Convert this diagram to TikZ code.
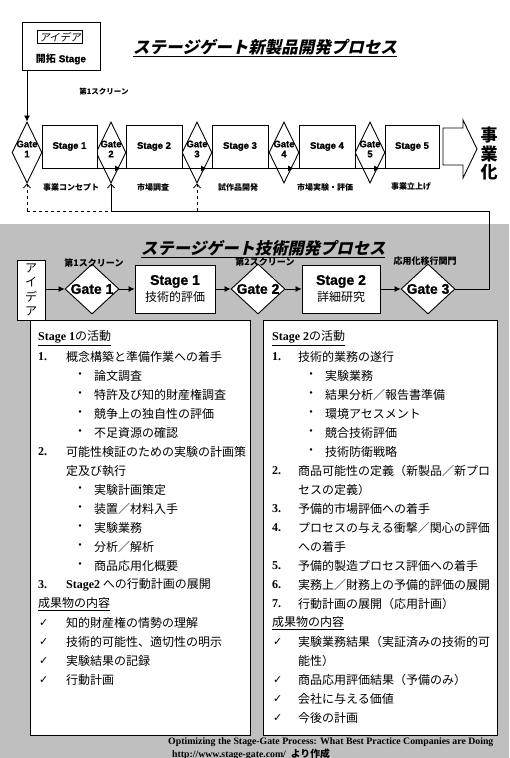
\documentclass[tikz,border=0pt]{standalone}
\usepackage{fontspec}
\setmainfont{Liberation Sans}
\newfontfamily\heavy[BoldFeatures={FakeBold=1.2}]{Liberation Sans}
\newfontfamily\jp{Noto Sans CJK JP}
\newfontfamily\jpsl[FakeSlant=0.22]{Noto Sans CJK JP}
\newfontfamily\lserif{Liberation Serif}
\newfontfamily\dv{DejaVu Sans}
\usetikzlibrary{arrows.meta,shapes.geometric,calc}
\tikzset{
 stagebox/.style={draw, line width=0.9pt, fill=white, inner sep=0pt},
 gatebox/.style={draw, diamond, line width=0.9pt, fill=white, inner sep=0pt},
 arr/.style={-{Latex[length=6pt,width=6pt]}, line width=0.8pt},
 uparr/.style={-{Straight Barb[length=4pt,width=7pt]}, line width=0.8pt},
 ln/.style={anchor=west, inner sep=0pt, font=\jp\fontsize{12}{14}\selectfont},
 gtxt/.style={inner sep=0pt, align=center, font=\heavy\bfseries\fontsize{9.5}{10}\selectfont},
 lgtxt/.style={inner sep=0pt, font=\heavy\bfseries\fontsize{14}{15}\selectfont},
 toplbl/.style={inner sep=0pt, font=\jp\bfseries\fontsize{8}{9}\selectfont},
 scr/.style={inner sep=0pt, font=\jp\bfseries\fontsize{9}{10}\selectfont},
}
\newcommand\myN[6]{\node[ln] (#1n) at (#2,#4) {\lserif\bfseries #5.}; \node[ln] (#1) at (#3,#4) {#6};}
\newcommand\myB[5]{\node[ln] (#1b) at (#2,#4) {・}; \node[ln] (#1) at (#3,#4) {#5};}
\newcommand\myK[5]{\node[ln] (#1k) at (#2,#4) {\dv\fontsize{11}{12}\selectfont ✓}; \node[ln] (#1) at (#3,#4) {#5};}
\newcommand\myC[4]{\node[ln] (#1) at (#2,#3) {#4};}
\begin{document}
\begin{tikzpicture}[x=1pt,y=-1pt]
\useasboundingbox (0,0) rectangle (509,758);
\fill[white] (0,0) rectangle (509,758);
\fill[black!25] (0,224) rectangle (509,758);

% ---------- upper process ----------
\node[stagebox, minimum width=78pt, minimum height=48pt] (idea) at (61,46) {};
\node[draw, line width=0.6pt, inner sep=1.5pt, font=\jpsl\fontsize{10.5}{11}\selectfont] (ideain) at (60,37) {アイデア};
\node[inner sep=0pt, font=\fontsize{10}{11}\selectfont] (kaitaku) at (61,59) {{\jp\bfseries 開拓} {\heavy\bfseries Stage}};
\node[anchor=west, inner sep=0pt, font=\jpsl\bfseries\fontsize{16.5}{18}\selectfont] (t1) at (133,48) {\underline{ステージゲート新製品開発プロセス}};
\node[scr, font=\jp\bfseries\fontsize{7.5}{9}\selectfont] (scr0) at (104,92) {第1スクリーン};

\foreach \i/\x in {1/27,2/111,3/197,4/284,5/370} {
  \node[gatebox, minimum width=30pt, minimum height=61pt] (g\i) at (\x,152.5) {};
  \node[gtxt] (gt\i) at (\x,149) {Gate\\\i};
}
\foreach \i/\x/\w in {1/69.5/55,2/154/56,3/240/56,4/327/56,5/412/54} {
  \node[stagebox, minimum width=\w pt, minimum height=43pt, font=\heavy\bfseries\fontsize{9.5}{11}\selectfont] (s\i) at (\x,146.5) {\raisebox{2pt}{Stage \i}};
}
\node[toplbl] (l1) at (71,187) {事業コンセプト};
\node[toplbl] (l2) at (153,187) {市場調査};
\node[toplbl] (l3) at (238,187) {試作品開発};
\node[toplbl] (l4) at (325,187) {市場実験・評価};
\node[toplbl] (l5) at (411,187) {事業立上げ};

\draw[line width=0.9pt] (443,128) -- (463,128) -- (463,120) -- (477,149) -- (463,178) -- (463,165) -- (443,165) -- cycle;
\node[inner sep=0pt, align=center, font=\jp\bfseries\fontsize{17}{18.5}\selectfont] (jig) at (489,154) {事\\業\\化};

\draw[arr] (idea.south -| g1) -- (g1.north);
\foreach \a/\b in {1/2,2/3,3/4,4/5} {
  \draw[line width=0.8pt] (s\a.south east) -- (s\b.south west);
  \draw[arr] (s\a.south east) -- ($(g\b |- s\a.south)+(10,0)$);
}

% feedback
\coordinate (f1) at (27,211);
\coordinate (f2) at (111,211);
\coordinate (f3) at (197,211);
\coordinate (fR) at (489,211);
\draw[line width=0.8pt, dashed] (f1) -- (f2);
\draw[uparr, dashed] (f1) -- (g1.south);
\draw[uparr] (f2) -- (g2.south);
\draw[uparr, dashed] (f3) -- (g3.south);

% ---------- lower process ----------
\node[anchor=west, inner sep=0pt, font=\jpsl\bfseries\fontsize{16.3}{18}\selectfont] (t2) at (141,249) {\underline{ステージゲート技術開発プロセス}};
\node[stagebox, minimum width=28pt, minimum height=60pt, align=center, font=\jp\fontsize{12}{14.5}\selectfont] (lidea) at (31,290) {ア\\イ\\デ\\ア};
\foreach \i/\x in {1/92,2/258,3/428} {
  \node[gatebox, minimum width=54pt, minimum height=50pt] (lg\i) at (\x,289) {};
  \node[lgtxt] (lgt\i) at (\x,289) {Gate \i};
}
\node[stagebox, minimum width=80pt, minimum height=48pt, align=center] (ls1) at (175,289)
  {{\heavy\bfseries\fontsize{14}{15}\selectfont Stage 1}\\[3pt]{\jp\fontsize{12}{13}\selectfont 技術的評価}};
\node[stagebox, minimum width=78pt, minimum height=48pt, align=center] (ls2) at (341,289)
  {{\heavy\bfseries\fontsize{14}{15}\selectfont Stage 2}\\[3pt]{\jp\fontsize{12}{13}\selectfont 詳細研究}};
\node[scr] (sc1) at (94,263) {第1スクリーン};
\node[scr] (sc2) at (265,262) {第2スクリーン};
\node[scr] (sc3) at (425,261) {応用化移行関門};

\draw[arr] (lidea.east |- lg1.west) -- (lg1.west);
\draw[arr] (lg1.east) -- (ls1.west);
\draw[arr] (ls1.east) -- (lg2.west);
\draw[arr] (lg2.east) -- (ls2.west);
\draw[arr] (ls2.east) -- (lg3.west);
\draw[line width=0.8pt] (lg3.east) -- (lg3.east -| fR) -- (fR) -- (f2);

% ---------- activity boxes ----------
\node[stagebox, line width=1.2pt, minimum width=220pt, minimum height=415pt, anchor=north west] (A1) at (30,320) {};
\node[stagebox, line width=1.2pt, minimum width=234pt, minimum height=415pt, anchor=north west] (A2) at (263,320) {};

% left box
\myC{L0}{38}{338}{\underline{{\lserif\bfseries Stage 1}の活動}}
\myN{L1}{38}{66}{357}{1}{概念構築と準備作業への着手}
\myB{L2}{74}{94}{376}{論文調査}
\myB{L3}{74}{94}{395}{特許及び知的財産権調査}
\myB{L4}{74}{94}{414}{競争上の独自性の評価}
\myB{L5}{74}{94}{433}{不足資源の確認}
\myN{L6}{38}{66}{452}{2}{可能性検証のための実験の計画策}
\myC{L7}{66}{471}{定及び執行}
\myB{L8}{74}{94}{490}{実験計画策定}
\myB{L9}{74}{94}{509}{装置／材料入手}
\myB{L10}{74}{94}{528}{実験業務}
\myB{L11}{74}{94}{547}{分析／解析}
\myB{L12}{74}{94}{566}{商品応用化概要}
\myN{L13}{38}{66}{585}{3}{{\lserif\bfseries Stage2} への行動計画の展開}
\myC{L14}{38}{604}{\underline{成果物の内容}}
\myK{L15}{39}{66}{623}{知的財産権の情勢の理解}
\myK{L16}{39}{66}{642}{技術的可能性、適切性の明示}
\myK{L17}{39}{66}{661}{実験結果の記録}
\myK{L18}{39}{66}{680}{行動計画}

% right box
\myC{R0}{272}{338}{\underline{{\lserif\bfseries Stage 2}の活動}}
\myN{R1}{272}{298}{357}{1}{技術的業務の遂行}
\myB{R2}{305}{325}{376}{実験業務}
\myB{R3}{305}{325}{395}{結果分析／報告書準備}
\myB{R4}{305}{325}{414}{環境アセスメント}
\myB{R5}{305}{325}{433}{競合技術評価}
\myB{R6}{305}{325}{452}{技術防衛戦略}
\myN{R7}{272}{298}{471}{2}{商品可能性の定義（新製品／新プロ}
\myC{R8}{298}{490}{セスの定義）}
\myN{R9}{272}{298}{509}{3}{予備的市場評価への着手}
\myN{R10}{272}{298}{528}{4}{プロセスの与える衝撃／関心の評価}
\myC{R11}{298}{547}{への着手}
\myN{R12}{272}{298}{566}{5}{予備的製造プロセス評価への着手}
\myN{R13}{272}{298}{585}{6}{実務上／財務上の予備的評価の展開}
\myN{R14}{272}{298}{604}{7}{行動計画の展開（応用計画）}
\myC{R15}{272}{623}{\underline{成果物の内容}}
\myK{R16}{273}{298}{642}{実験業務結果（実証済みの技術的可}
\myC{R17}{298}{661}{能性）}
\myK{R18}{273}{298}{680}{商品応用評価結果（予備のみ）}
\myK{R19}{273}{298}{699}{会社に与える価値}
\myK{R20}{273}{298}{718}{今後の計画}

% source
\node[anchor=west, inner sep=0pt, font=\lserif\bfseries\fontsize{9.8}{10}\selectfont] (src1) at (168,742) {Optimizing the Stage-Gate Process: What Best Practice Companies are Doing};
\node[anchor=west, inner sep=0pt, font=\lserif\bfseries\fontsize{9.8}{10}\selectfont] (src2) at (172,754) {http://www.stage-gate.com/ \ {\jp より作成}};
\end{tikzpicture}
\end{document}
